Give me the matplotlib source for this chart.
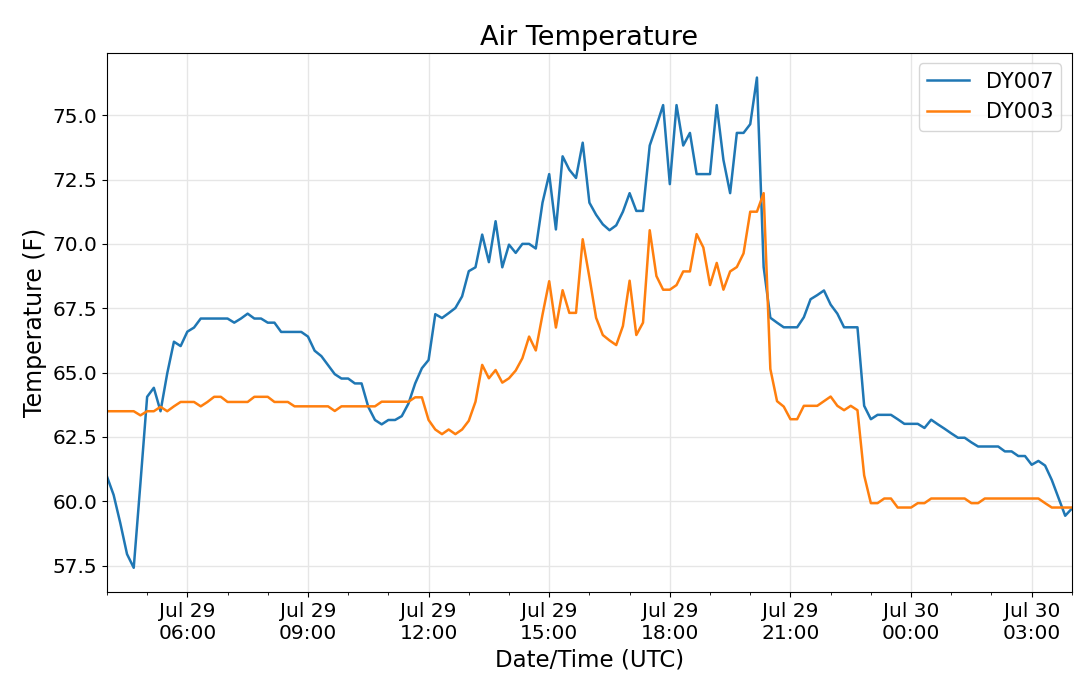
import matplotlib
matplotlib.use("Agg")
import matplotlib.pyplot as plt
import matplotlib.dates as mdates
import pandas as pd

times = pd.date_range("2020-07-29 04:00", periods=145, freq="10min")

dy007 = [
    60.97, 60.25, 59.15, 57.95, 57.42, 60.7, 64.06, 64.41, 63.5, 64.97, 66.2, 66.03,
    66.59, 66.75, 67.1, 67.1, 67.1, 67.1, 67.1, 66.94, 67.1, 67.29, 67.1, 67.1,
    66.94, 66.94, 66.58, 66.58, 66.58, 66.58, 66.4, 65.85, 65.64, 65.29, 64.94, 64.77,
    64.77, 64.58, 64.58, 63.67, 63.16, 62.99, 63.16, 63.16, 63.31, 63.8, 64.58, 65.17,
    65.49, 67.27, 67.12, 67.31, 67.51, 67.96, 68.94, 69.09, 70.36, 69.29, 70.88, 69.09,
    69.97, 69.65, 70.0, 70.0, 69.82, 71.6, 72.71, 70.56, 73.4, 72.88, 72.56, 73.93,
    71.6, 71.13, 70.76, 70.53, 70.72, 71.25, 71.97, 71.28, 71.28, 73.82, 74.58, 75.39,
    72.32, 75.39, 73.82, 74.31, 72.71, 72.71, 72.71, 75.39, 73.26, 71.97, 74.31, 74.31,
    74.65, 76.46, 69.1, 67.13, 66.94, 66.76, 66.76, 66.76, 67.15, 67.85, 68.01, 68.19,
    67.64, 67.29, 66.76, 66.76, 66.76, 63.71, 63.19, 63.36, 63.36, 63.36, 63.19, 63.01,
    63.01, 63.01, 62.85, 63.17, 62.99, 62.82, 62.64, 62.47, 62.47, 62.29, 62.13, 62.13,
    62.13, 62.13, 61.94, 61.94, 61.76, 61.76, 61.42, 61.57, 61.39, 60.83, 60.14, 59.44,
    59.72,
]

dy003 = [
    63.5, 63.5, 63.5, 63.5, 63.5, 63.34, 63.5, 63.5, 63.67, 63.5, 63.69, 63.86,
    63.86, 63.86, 63.69, 63.86, 64.06, 64.06, 63.86, 63.86, 63.86, 63.86, 64.06, 64.06,
    64.06, 63.86, 63.86, 63.86, 63.69, 63.69, 63.69, 63.69, 63.69, 63.69, 63.51, 63.69,
    63.69, 63.69, 63.69, 63.69, 63.69, 63.87, 63.87, 63.87, 63.87, 63.87, 64.04, 64.04,
    63.16, 62.79, 62.61, 62.79, 62.61, 62.79, 63.13, 63.87, 65.3, 64.78, 65.1, 64.61,
    64.78, 65.08, 65.56, 66.4, 65.86, 67.25, 68.55, 66.75, 68.2, 67.32, 67.32, 70.18,
    68.7, 67.13, 66.46, 66.25, 66.07, 66.81, 68.57, 66.46, 66.94, 70.53, 68.75, 68.22,
    68.22, 68.4, 68.93, 68.93, 70.38, 69.86, 68.4, 69.26, 68.22, 68.93, 69.1, 69.63,
    71.25, 71.25, 71.97, 65.14, 63.89, 63.68, 63.19, 63.19, 63.71, 63.71, 63.71, 63.89,
    64.07, 63.71, 63.54, 63.71, 63.54, 61.01, 59.93, 59.93, 60.11, 60.11, 59.76, 59.76,
    59.76, 59.93, 59.93, 60.11, 60.11, 60.11, 60.11, 60.11, 60.11, 59.93, 59.93, 60.11,
    60.11, 60.11, 60.11, 60.11, 60.11, 60.11, 60.11, 60.11, 59.93, 59.76, 59.76, 59.76,
    59.76,
]

series_names = ["DY007", "DY003"]

fig = plt.figure(figsize=(10.8, 6.8), dpi=100)
ax = fig.add_axes([0.099, 0.129, 0.8935, 0.793])

ax.plot(times, dy007, color="#1f77b4", lw=1.8, label=series_names[0])
ax.plot(times, dy003, color="#ff7f0e", lw=1.8, label=series_names[1])

ax.set_xlim(times[0], times[-1])
ax.xaxis.set_major_locator(mdates.HourLocator(byhour=range(0, 24, 3)))
ax.xaxis.set_minor_locator(mdates.HourLocator())
ax.xaxis.set_major_formatter(mdates.DateFormatter("%b %d\n%H:%M"))
ax.yaxis.set_major_formatter(matplotlib.ticker.FormatStrFormatter("%.1f"))

ax.grid(True, which="major", color="#e6e6e6", lw=1)
ax.set_axisbelow(True)
ax.tick_params(axis="both", which="major", labelsize=14.5)

ax.set_title("Air Temperature", fontsize=19.5)
ax.set_xlabel("Date/Time (UTC)", fontsize=16.5)
ax.set_ylabel("Temperature (F)", fontsize=17)
ax.legend(loc="upper right", fontsize=15)

fig.savefig("out.png", dpi=100)
